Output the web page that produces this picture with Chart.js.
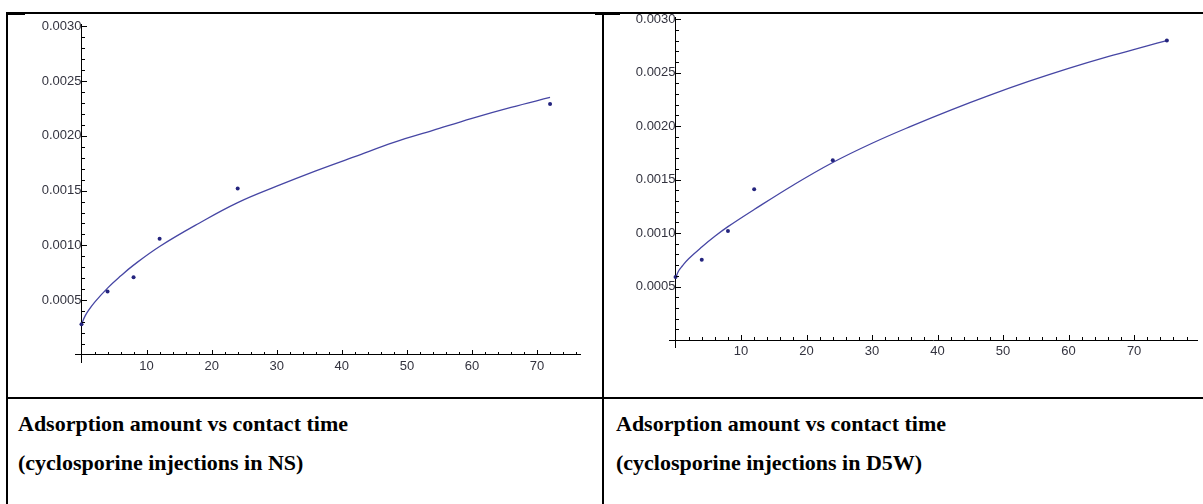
<!DOCTYPE html>
<html><head><meta charset="utf-8">
<script src="https://cdn.jsdelivr.net/npm/chart.js@4.4.0/dist/chart.umd.min.js"></script>
<style>
html,body{margin:0;padding:0;background:#fff;}
#page{position:relative;width:1203px;height:504px;overflow:hidden;background:#fff;}
canvas{position:absolute;}
.ln{position:absolute;background:#000;}
.cap{position:absolute;font-family:"Liberation Serif","Times New Roman",serif;font-weight:bold;font-size:22px;line-height:39px;color:#000;white-space:nowrap;}
</style></head>
<body><div id="page">
<canvas id="c1" width="594" height="397" style="left:8px;top:0"></canvas>
<canvas id="c2" width="599" height="397" style="left:604px;top:0"></canvas>
<div class="ln" style="left:6px;top:12px;width:1197px;height:2px"></div>
<div class="ln" style="left:7px;top:12px;width:18px;height:3px"></div>
<div class="ln" style="left:595px;top:12px;width:25px;height:3px"></div>
<div class="ln" style="left:6px;top:12px;width:2px;height:492px"></div>
<div class="ln" style="left:602px;top:12px;width:2px;height:492px"></div>
<div class="ln" style="left:6px;top:397px;width:1197px;height:2px"></div>
<div class="cap" style="left:18px;top:404px">Adsorption amount vs contact time<br>(cyclosporine injections in NS)</div>
<div class="cap" style="left:616px;top:404px">Adsorption amount vs contact time<br>(cyclosporine injections in D5W)</div>
</div>
<script>
// contact time (h)
const timeNS  = [0, 4, 8, 12, 24, 72];
const timeD5W = [0, 4, 8, 12, 24, 75];
// measured adsorption amounts
const adsorbNS  = [0.00028, 0.00058, 0.00071, 0.00106, 0.00152, 0.00229];
const adsorbD5W = [0.00059, 0.00075, 0.00102, 0.00141, 0.00168, 0.00280];
// fitted curves
const fitNSX  = [0, 0.5, 1, 2, 4, 6, 8, 12, 18, 24, 30, 36, 42, 48, 54, 60, 66, 72];
const fitNSY  = [0.00028, 0.00035, 0.00040, 0.00048, 0.00061, 0.00072, 0.00082, 0.00099, 0.00120, 0.00139, 0.00154, 0.00168, 0.00181, 0.00194, 0.00205, 0.00216, 0.00226, 0.00235];
const fitD5WX = [0, 0.5, 1, 2, 4, 6, 8, 12, 18, 24, 30, 36, 42, 48, 54, 60, 66, 72, 75];
const fitD5WY = [0.00058, 0.00065, 0.00069, 0.00076, 0.00087, 0.00097, 0.00106, 0.00122, 0.00145, 0.00166, 0.00184, 0.00200, 0.00215, 0.00229, 0.00242, 0.00254, 0.00265, 0.00275, 0.00280];
// tick labels
const xTickLabels = ['10', '20', '30', '40', '50', '60', '70'];
const yTickLabels = ['0.0005', '0.0010', '0.0015', '0.0020', '0.0025', '0.0030'];

const mathTicks = {
  id: 'mathTicks',
  afterDraw(chart) {
    const {ctx, scales: {x, y}} = chart;
    const x0 = Math.round(x.getPixelForValue(0));
    const y0 = Math.round(y.getPixelForValue(0));
    ctx.save();
    ctx.strokeStyle = '#000';
    ctx.lineWidth = 1;
    ctx.beginPath();
    for (let i = 1; i * 0.0001 <= y.max + 1e-9; i++) {
      const p = Math.round(y.getPixelForValue(i * 0.0001)) + 0.5;
      const len = (i % 5 === 0) ? 5 : 3;
      ctx.moveTo(x0, p); ctx.lineTo(x0 + len, p);
    }
    for (let i = 1; i * 2 <= x.max + 1e-9; i++) {
      const p = Math.round(x.getPixelForValue(i * 2)) + 0.5;
      const len = (i % 5 === 0) ? 5 : 3;
      ctx.moveTo(p, y0); ctx.lineTo(p, y0 - len);
    }
    ctx.stroke();
    ctx.restore();
  }
};

const tickFont = {family: '"Liberation Sans", Arial, sans-serif', size: 13};
const tickColor = '#33333f';

function makeChart(id, ptsX, ptsY, fitX, fitY, xr, yr, pad) {
  return new Chart(document.getElementById(id), {
    type: 'scatter',
    data: {datasets: [
      {type: 'line', data: fitX.map((v, i) => ({x: v, y: fitY[i]})), borderColor: '#4646a4', borderWidth: 1.3,
       pointRadius: 0, tension: 0.4, fill: false, order: 2},
      {data: ptsX.map((v, i) => ({x: v, y: ptsY[i]})), pointRadius: 2, pointBackgroundColor: '#24247e',
       pointBorderWidth: 0, order: 1}
    ]},
    options: {
      responsive: false, animation: false, devicePixelRatio: 1,
      layout: {padding: pad},
      plugins: {legend: {display: false}, tooltip: {enabled: false}},
      scales: {
        x: {type: 'linear', position: {y: 0}, min: xr[0], max: xr[1],
            grid: {display: true, drawOnChartArea: false, drawTicks: false},
            border: {display: true, color: '#000', width: 1},
            ticks: {stepSize: 10, includeBounds: false, autoSkip: false, maxRotation: 0, padding: 4,
                    font: tickFont, color: tickColor,
                    callback: v => { const k = Math.round(v / 10) - 1; return (k >= 0 && k < xTickLabels.length) ? xTickLabels[k] : ''; }}},
        y: {type: 'linear', position: {x: 0}, min: yr[0], max: yr[1],
            grid: {display: true, drawOnChartArea: false, drawTicks: false},
            border: {display: true, color: '#000', width: 1},
            ticks: {stepSize: 0.0005, includeBounds: false, autoSkip: false, padding: 5,
                    font: tickFont, color: tickColor,
                    callback: v => { const k = Math.round(v / 0.0005) - 1; return (k >= 0 && k < yTickLabels.length) ? yTickLabels[k] : ''; }}}
      }
    },
    plugins: [mathTicks]
  });
}

makeChart('c1', timeNS, adsorbNS, fitNSX, fitNSY, [-1.0, 76.6], [-0.000064, 0.00302], {left: 67, right: 22, top: 24, bottom: 35});
makeChart('c2', timeD5W, adsorbD5W, fitD5WX, fitD5WY, [-1.0, 79.6], [-0.000065, 0.00302], {left: 65, right: 6, top: 17, bottom: 50});
</script>
</body></html>
